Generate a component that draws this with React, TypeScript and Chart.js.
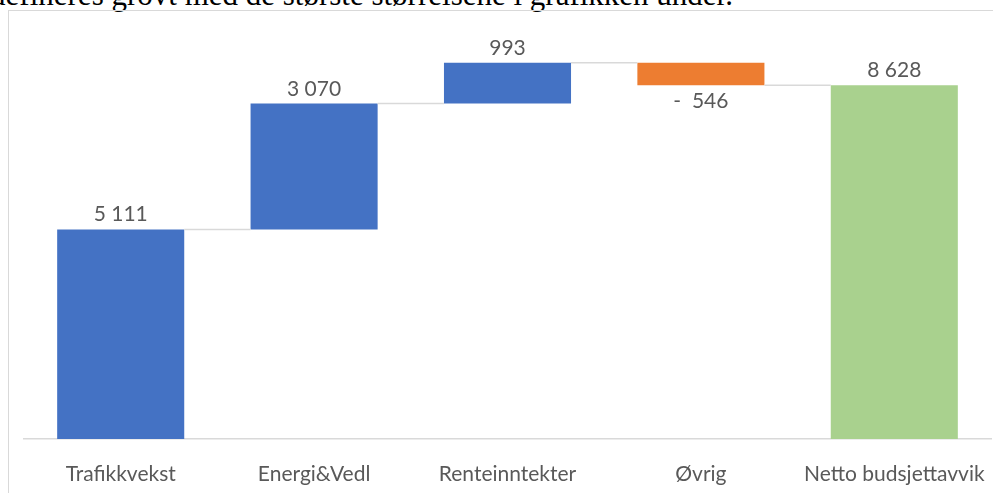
import React, { useEffect, useRef } from "react";
import { Chart, registerables } from "chart.js";

Chart.register(...registerables);

const categories = ["Trafikkvekst", "Energi&Vedl", "Renteinntekter", "Øvrig", "Netto budsjettavvik"];
const deltas = [5111, 3070, 993, -546];
const total = 8628;
const barColors = ["#4472C4", "#4472C4", "#4472C4", "#ED7D31", "#A9D18E"];
const yMax = 10000;
const introText = "Budsjettavviket kan defineres grovt med de største størrelsene i grafikken under.";

const labelFont = "Lato";
const labelColor = "#595959";
const lineColor = "#d9d9d9";

function fmt(n: number): string {
  const s = Math.abs(n).toString().replace(/\B(?=(\d{3})+(?!\d))/g, " ");
  return n < 0 ? "-  " + s : s;
}

export default function App() {
  const ref = useRef<HTMLCanvasElement | null>(null);

  useEffect(() => {
    if (!ref.current) return;
    let cum = 0;
    const ranges: [number, number][] = [];
    const levels: number[] = [];
    deltas.forEach((d) => {
      const s = cum;
      cum += d;
      ranges.push([Math.min(s, cum), Math.max(s, cum)]);
      levels.push(cum);
    });
    ranges.push([0, total]);
    const values = [...deltas, total];

    const waterfallPlugin = {
      id: "waterfall",
      afterDatasetsDraw(chart: any) {
        const ctx = chart.ctx;
        const meta = chart.getDatasetMeta(0);
        const y = chart.scales.y;
        const x = chart.scales.x;
        ctx.save();
        ctx.strokeStyle = lineColor;
        ctx.lineWidth = 1.5;
        for (let i = 0; i < meta.data.length - 1; i++) {
          const a = meta.data[i];
          const b = meta.data[i + 1];
          const py = y.getPixelForValue(levels[i]);
          ctx.beginPath();
          ctx.moveTo(a.x + a.width / 2, py);
          ctx.lineTo(b.x - b.width / 2, py);
          ctx.stroke();
        }
        ctx.font = `21px ${labelFont}`;
        ctx.fillStyle = labelColor;
        ctx.textAlign = "center";
        ctx.textBaseline = "alphabetic";
        values.forEach((v, i) => {
          const el = meta.data[i];
          const top = Math.min(el.y, el.base);
          const bottom = Math.max(el.y, el.base);
          if (v >= 0) {
            ctx.fillText(fmt(v), el.x, top - 8);
          } else {
            ctx.fillText(fmt(v), el.x, bottom + 23);
          }
        });
        categories.forEach((c, i) => {
          ctx.fillText(c, x.getPixelForValue(i), chart.chartArea.bottom + 42);
        });
        ctx.restore();
      },
    };

    const chart = new Chart(ref.current, {
      type: "bar",
      data: {
        labels: categories,
        datasets: [
          {
            data: ranges as any,
            backgroundColor: barColors,
            borderWidth: 0,
            barPercentage: 0.657,
            categoryPercentage: 1,
          },
        ],
      },
      options: {
        animation: false,
        responsive: false,
        layout: { padding: { left: 24, right: 2, top: 29, bottom: 46 } },
        plugins: { legend: { display: false }, tooltip: { enabled: false } },
        scales: {
          x: {
            grid: { display: false },
            border: { display: true, color: lineColor, width: 1.5 },
            ticks: { display: false },
          },
          y: { display: false, min: 0, max: yMax },
        },
      },
      plugins: [waterfallPlugin],
    });
    return () => chart.destroy();
  }, []);

  return (
    <div style={{ position: "fixed", left: 0, top: 0, width: 993, height: 493, overflow: "hidden", background: "#fff" }}>
      <div
        style={{
          position: "absolute",
          left: 733,
          top: -21,
          transform: "translateX(-100%)",
          whiteSpace: "nowrap",
          fontFamily: "'Liberation Serif', serif",
          fontSize: 31,
          lineHeight: "31px",
          color: "#000",
        }}
      >
        {introText}
      </div>
      <div
        style={{
          position: "absolute",
          left: 8,
          top: 10,
          width: 1100,
          height: 600,
          border: "1.5px solid #d9d9d9",
          boxSizing: "border-box",
        }}
      />
      <canvas ref={ref} width={993} height={493} style={{ position: "absolute", left: 0, top: 0, width: 993, height: 493 }} />
    </div>
  );
}
